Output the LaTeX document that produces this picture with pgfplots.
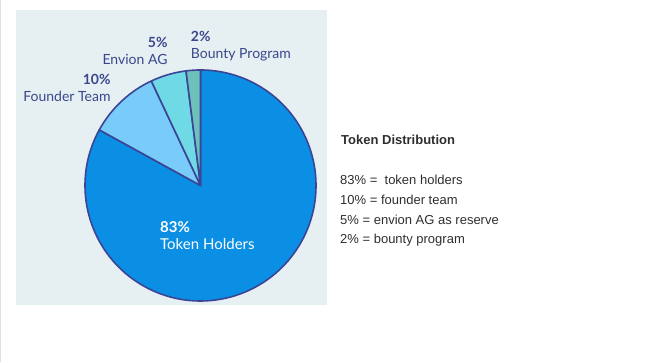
\documentclass[border=0pt]{standalone}
\usepackage{pgfplots}
\pgfplotsset{compat=1.18}
\usepackage{fontspec}
\setmainfont{Liberation Sans}
\newfontfamily\lato{Lato}
\definecolor{panel}{HTML}{E6EFF2}
\definecolor{tokc}{HTML}{0A8FE5}
\definecolor{founderc}{HTML}{79CCFA}
\definecolor{envc}{HTML}{6FD9E6}
\definecolor{bountyc}{HTML}{6EC1BA}
\definecolor{outl}{HTML}{3A4596}
\definecolor{lblc}{HTML}{3A478C}
\definecolor{txt}{HTML}{2E2E2E}
% values (percent)
\def\vBounty{2}\def\vEnv{5}\def\vFounder{10}\def\vTok{83}
\pgfmathsetmacro\aA{90}
\pgfmathsetmacro\aB{\aA+3.6*\vBounty}
\pgfmathsetmacro\aC{\aB+3.6*\vEnv}
\pgfmathsetmacro\aD{\aC+3.6*\vFounder}
\pgfmathsetmacro\aE{\aD+3.6*\vTok}
\def\cx{200.5}\def\cy{177}\def\rr{115.5}
\begin{document}
\begin{tikzpicture}
\begin{axis}[width=663pt,height=362pt,scale only axis,xmin=0,xmax=663,ymin=0,ymax=362,hide axis,clip=false]
\path (axis cs:0,0) rectangle (axis cs:663,362);
\fill[panel] (axis cs:16,57) rectangle (axis cs:327,352);
\draw[black!12, line width=1pt] (axis cs:0.5,0) -- (axis cs:0.5,362);
\filldraw[fill=tokc, draw=outl, line width=1.6pt, line join=round] (axis cs:\cx,\cy) -- ++(\aD:\rr pt) arc[start angle=\aD, end angle=\aE, radius=\rr pt] -- cycle;
\filldraw[fill=founderc, draw=outl, line width=1.6pt, line join=round] (axis cs:\cx,\cy) -- ++(\aC:\rr pt) arc[start angle=\aC, end angle=\aD, radius=\rr pt] -- cycle;
\filldraw[fill=envc, draw=outl, line width=1.6pt, line join=round] (axis cs:\cx,\cy) -- ++(\aB:\rr pt) arc[start angle=\aB, end angle=\aC, radius=\rr pt] -- cycle;
\filldraw[fill=bountyc, draw=outl, line width=1.6pt, line join=round] (axis cs:\cx,\cy) -- ++(\aA:\rr pt) arc[start angle=\aA, end angle=\aB, radius=\rr pt] -- cycle;
% pie labels
\node[anchor=base west, inner sep=0pt, text=lblc, font=\lato\bfseries\fontsize{14}{16}\selectfont] at (axis cs:190.7,321.3) {2\%};
\node[anchor=base west, inner sep=0pt, text=lblc, font=\lato\fontsize{14}{16}\selectfont] at (axis cs:190.7,303.7) {Bounty Program};
\node[anchor=base east, inner sep=0pt, text=lblc, font=\lato\bfseries\fontsize{14}{16}\selectfont] at (axis cs:167.7,315.3) {5\%};
\node[anchor=base east, inner sep=0pt, text=lblc, font=\lato\fontsize{14}{16}\selectfont] at (axis cs:167.7,298) {Envion AG};
\node[anchor=base east, inner sep=0pt, text=lblc, font=\lato\bfseries\fontsize{14}{16}\selectfont] at (axis cs:110.7,277.7) {10\%};
\node[anchor=base east, inner sep=0pt, text=lblc, font=\lato\fontsize{14}{16}\selectfont] at (axis cs:110.7,261.3) {Founder Team};
\node[anchor=base west, inner sep=0pt, text=white, font=\lato\bfseries\fontsize{15}{17}\selectfont] at (axis cs:160,130.3) {83\%};
\node[anchor=base west, inner sep=0pt, text=white, font=\lato\fontsize{15}{17}\selectfont] at (axis cs:160,113) {Token Holders};
% right text
\node[anchor=base west, inner sep=0pt, text=txt, font=\bfseries\fontsize{13}{15}\selectfont] at (axis cs:341,217.5) {Token Distribution};
\node[anchor=base west, inner sep=0pt, text=txt, font=\fontsize{13}{15}\selectfont] at (axis cs:340,177.5) {83\% = \ token holders};
\node[anchor=base west, inner sep=0pt, text=txt, font=\fontsize{13}{15}\selectfont] at (axis cs:340,158) {10\% = founder team};
\node[anchor=base west, inner sep=0pt, text=txt, font=\fontsize{13}{15}\selectfont] at (axis cs:340,138.3) {5\% = envion AG as reserve};
\node[anchor=base west, inner sep=0pt, text=txt, font=\fontsize{13}{15}\selectfont] at (axis cs:340,118.7) {2\% = bounty program};
\end{axis}
\end{tikzpicture}
\end{document}
